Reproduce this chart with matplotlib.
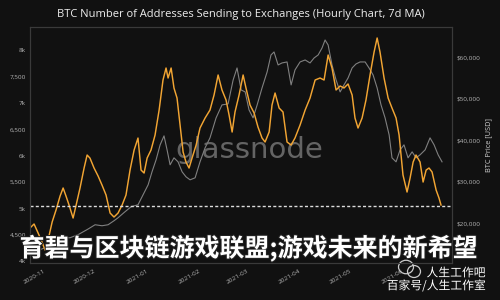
import matplotlib
matplotlib.use("Agg")
import matplotlib.pyplot as plt
import matplotlib.dates as mdates
import matplotlib.patheffects as pe
from matplotlib.patches import Ellipse
import pandas as pd

# ---------------- data ----------------
base_date = "2020-11-01"
# days after base_date, number of addresses sending to exchanges (7d MA)
addr_days = [-9.5, -7.1, -4.7, -2.4, -0.6, 1.2, 3.6, 5.9, 8.3, 10.1, 11.8, 13.6, 16.0, 17.8,
             20.1, 22.5, 24.3, 26.0, 28.4, 30.8, 33.1, 35.5, 37.9, 40.2, 42.6, 45.0, 47.3,
             49.7, 52.1, 54.4, 56.2, 58.0, 59.8, 62.1, 64.5, 66.9, 69.2, 71.0, 72.2, 74.0,
             75.7, 77.5, 79.3, 81.1, 82.8, 84.6, 86.4, 88.8, 91.1, 94.1, 97.0, 99.4, 101.8,
             104.1, 106.5, 108.3, 110.1, 111.8, 114.2, 116.6, 118.3, 120.7, 123.1, 125.4,
             127.8, 129.6, 132.0, 133.7, 135.5, 137.9, 140.2, 142.6, 145.0, 147.3, 150.3,
             153.3, 156.2, 159.2, 162.1, 164.5, 166.9, 169.2, 171.6, 174.0, 176.3, 178.7,
             181.1, 182.8, 184.6, 187.0, 189.3, 191.7, 194.1, 195.9, 197.6, 200.0, 202.4,
             204.7, 207.1, 208.9, 211.2, 213.6, 215.4, 217.2, 218.9, 221.3, 223.1, 224.9,
             226.6, 228.4, 230.8, 232.5, 233.7]
addr_values = [4632, 4708, 4537, 4367, 4216, 4405, 4745, 4972, 5237, 5389, 5237, 5067, 4821, 5067,
               5389, 5767, 6013, 5954, 5767, 5615, 5445, 5256, 4915, 4840, 4915, 5067, 5256,
               5729, 6107, 6334, 5729, 5672, 5956, 6107, 6391, 6864, 7432, 7659, 7470, 7659,
               7280, 7091, 6580, 6069, 5880, 5767, 5956, 6202, 6524, 6713, 6864, 7148, 7527,
               7243, 7054, 6770, 6448, 6827, 7148, 7527, 7281, 6959, 6808, 6543,
               6335, 6259, 6449, 6959, 7186, 6902, 6827, 6259, 6202, 6335, 6580,
               6864, 7091, 7432, 7470, 7432, 7905, 7659, 7243, 7319, 7281, 7357,
               7148, 6713, 6524, 6713, 7054, 7527, 7962, 8227, 7962, 7470, 7091,
               6902, 6713, 6391, 5635, 5313, 5578, 5880, 6013, 5880, 5502, 5729,
               5767, 5692, 5351, 5200, 5067]

# days after base_date, BTC price in USD
price_days = [-9.5, -3.6, 2.4, 8.9, 14.2, 18.9, 24.9, 29.0, 33.1, 36.7, 40.2, 42.6, 46.7, 50.3,
              54.4, 57.4, 60.4, 62.7, 65.1, 67.5, 69.8, 71.6, 73.4, 75.7, 78.1, 80.5, 82.8,
              85.2, 88.2, 91.1, 94.1, 97.0, 100.6, 104.1, 107.7, 110.7, 113.0, 115.4, 117.8,
              120.1, 122.5, 124.9, 127.8, 130.8, 133.1, 134.9, 137.3, 139.6, 142.6, 145.0,
              147.3, 150.3, 153.3, 156.2, 158.6, 161.0, 163.3, 165.1, 166.9, 169.2, 171.6,
              174.0, 176.3, 178.7, 181.1, 183.4, 185.8, 188.8, 191.1, 193.5, 195.9, 198.2,
              200.6, 203.0, 204.7, 207.1, 209.5, 211.8, 214.2, 216.6, 218.9, 221.3, 224.3,
              227.2, 229.6, 232.0, 234.3]
price_values = [13085, 13567, 14530, 16458, 16458, 17181, 18566, 19590, 19349, 19590, 20554, 21277,
                22723, 23928, 24410, 26819, 29229, 32362, 35253, 38868, 41036, 37663, 34048,
                35735, 34771, 32362, 31157, 30434, 30916, 34771, 38145, 40554, 45373, 48506,
                48747, 54530, 57422, 52120, 51639, 47301, 45373, 48506, 52603, 56458, 60554,
                61277, 58145, 58627, 58868, 53326, 56940, 58868, 59349, 58627, 59831, 60554,
                62241, 64168, 62964, 58145, 54530, 51639, 53326, 55012, 57422, 58386, 58868,
                58868, 57422, 55735, 52603, 48506, 45373, 41277, 35735, 34771, 37663, 38868,
                35735, 37181, 35735, 36458, 37663, 40554, 38868, 36458, 34771]

left_ticks = [4000, 4500, 5000, 5500, 6000, 6500, 7000, 7500, 8000]
left_labels = ["4k", "4,500", "5k", "5,500", "6k", "6,500", "7k", "7,500", "8k"]
right_ticks = [20000, 30000, 40000, 50000, 60000]
right_labels = ["$20,000", "$30,000", "$40,000", "$50,000", "$60,000"]
reference_level = 5050

title = "BTC Number of Addresses Sending to Exchanges (Hourly Chart, 7d MA)"
right_ylabel = "BTC Price [USD]"
overlay_text = "育碧与区块链游戏联盟;游戏未来的新希望"
brand1 = "人生工作吧"
brand2 = "百家号/人生工作室"

# ---------------- drawing ----------------
plt.rcParams['font.family'] = ['Open Sans', 'Noto Sans CJK SC', 'DejaVu Sans']
bg = "#111111"
tick_col = "#b5b5b5"

start = pd.Timestamp(base_date)
addr_dates = start + pd.to_timedelta(addr_days, unit="D")
price_dates = start + pd.to_timedelta(price_days, unit="D")

fig = plt.figure(figsize=(5, 3), dpi=100, facecolor=bg)
ax = fig.add_axes([0.06, 0.1233, 0.844, 0.7867])
ax2 = ax.twinx()
ax2.set_zorder(1)
ax.set_zorder(2)
ax.patch.set_visible(False)
ax2.set_facecolor(bg)

ax2.plot(price_dates, price_values, color="#8c8c8c", lw=0.8, alpha=0.9)
ax.plot(addr_dates, addr_values, color="#f2a533", lw=1.05)
ax.axhline(reference_level, color="#dddddd", lw=1.0, ls=(0, (2.2, 1.6)))

ax.set_xlim(start - pd.Timedelta(days=9.5), start + pd.Timedelta(days=240.2))
ax.set_ylim(3970, 8435)
ax2.set_ylim(10360, 67300)

ax.set_yticks(left_ticks)
ax.set_yticklabels(left_labels)
ax2.set_yticks(right_ticks)
ax2.set_yticklabels(right_labels)
ax.xaxis.set_major_locator(mdates.MonthLocator())
ax.xaxis.set_major_formatter(mdates.DateFormatter("%Y-%m"))
for lab in ax.get_xticklabels():
    lab.set_rotation(30)
    lab.set_ha("right")

ax.tick_params(axis="y", length=0, pad=3, labelsize=4.6, labelcolor=tick_col)
ax.tick_params(axis="x", length=0, pad=4, labelsize=4.6, labelcolor=tick_col)
ax2.tick_params(axis="y", length=0, pad=3, labelsize=4.6, labelcolor=tick_col)
for a in (ax, ax2):
    for s in a.spines.values():
        s.set_color("#3a3a3a")
        s.set_linewidth(0.8)

ax2.set_ylabel(right_ylabel, color="#cfcfcf", fontsize=5.3, labelpad=4)

fig.text(0.482, 0.95, title, color="#eeeeee", fontsize=8.0, ha="center", va="center")

ax.text(0.52, 0.48, "glassnode", transform=ax.transAxes, color="#7a7a7a", alpha=0.8,
        fontsize=21, ha="center", va="center", zorder=0, family="DejaVu Sans")

fig.text(0.497, 0.173, overlay_text, color="white", fontsize=18, fontweight="black",
         ha="center", va="center", family=["Noto Sans CJK SC", "DejaVu Sans"],
         path_effects=[pe.withStroke(linewidth=1.5, foreground="#222222")])

# small brand watermark bottom-right
for (cx, cy, w, h) in [(0.812, 0.11, 0.03, 0.045), (0.828, 0.095, 0.026, 0.04)]:
    fig.patches.append(Ellipse((cx, cy), w, h, transform=fig.transFigure, fill=False,
                               ec="#cccccc", lw=0.9))
fig.text(0.853, 0.09, brand1, color="white", fontsize=8.5, ha="left", va="center",
         family=["Noto Sans CJK SC", "DejaVu Sans"],
         path_effects=[pe.withStroke(linewidth=1.2, foreground="#111111")])
fig.text(0.872, 0.047, brand2, color="white", fontsize=8.5, ha="center", va="center",
         family=["Noto Sans CJK SC", "DejaVu Sans"],
         path_effects=[pe.withStroke(linewidth=1.2, foreground="#111111")])

fig.savefig("out.png", dpi=100, facecolor=bg)
